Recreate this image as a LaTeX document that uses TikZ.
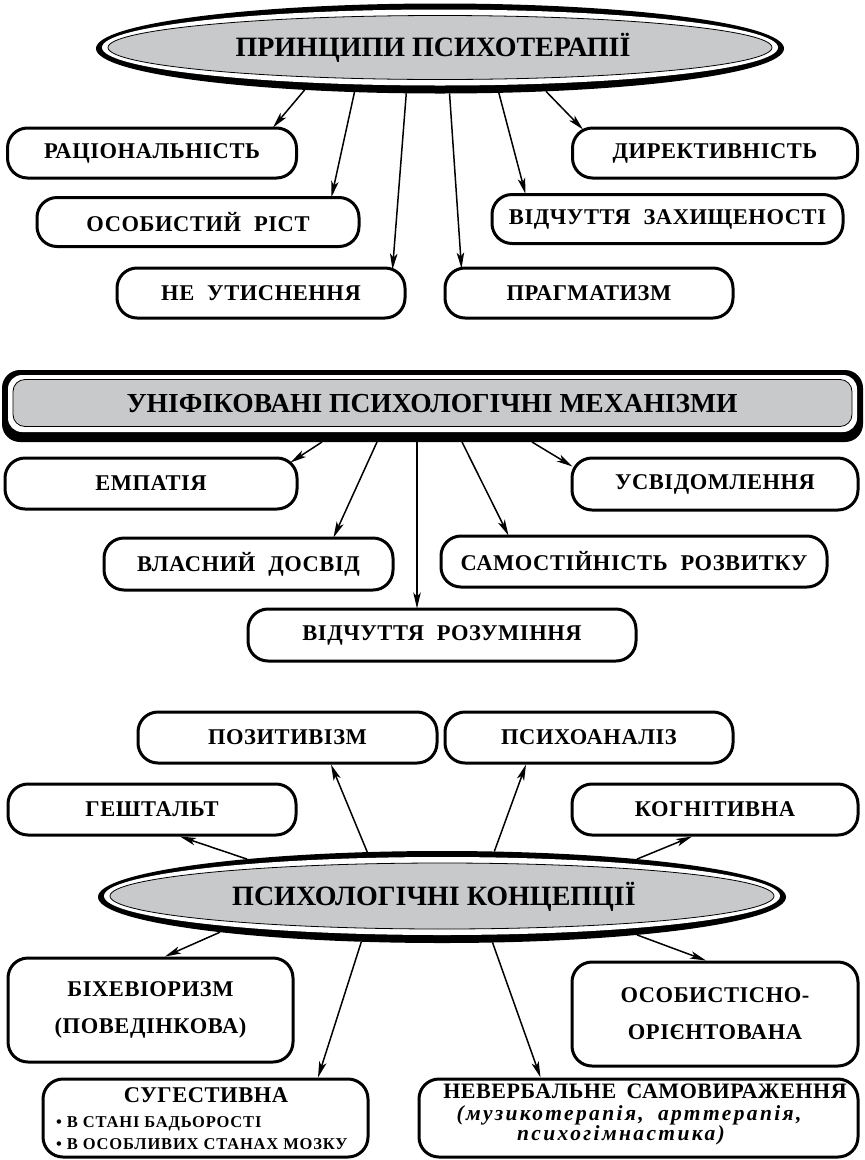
\documentclass[tikz,border=0pt]{standalone}
\usepackage{fontspec}
\setmainfont{Liberation Serif}
\newfontfamily\boxfont[LetterSpace=2.5]{Liberation Serif}
\newfontfamily\itfont[LetterSpace=11]{Liberation Serif}
\newfontfamily\bulfont[LetterSpace=5]{Liberation Serif}
\usetikzlibrary{arrows.meta,shapes.geometric}
\definecolor{tgray}{RGB}{200,201,203}
\begin{document}
\begin{tikzpicture}[x=1pt,y=-1pt,
  box/.style={draw, line width=3pt, rounded corners=20pt, fill=white, inner sep=0pt, align=center,
              font=\boxfont\bfseries\fontsize{22.5}{37}\selectfont},
  btxt/.style={inner sep=0pt, font=\boxfont\bfseries\fontsize{22.5}{24}\selectfont},
  itxt/.style={inner sep=0pt, font=\itfont\bfseries\itshape\fontsize{21.5}{24}\selectfont},
  bul/.style={inner sep=0pt, font=\bulfont\bfseries\fontsize{16.5}{18}\selectfont},
  ttl/.style={inner sep=0pt, font=\bfseries\fontsize{28}{30}\selectfont},
  blackfill/.style={fill=black, inner sep=0pt, outer sep=0pt},
  whitefill/.style={fill=white, inner sep=0pt, outer sep=0pt},
  grayfill/.style={draw, line width=0.8pt, fill=tgray, inner sep=0pt, outer sep=0pt},
  arr/.style={line width=1.5pt, -{Stealth[length=16pt,width=7.5pt,inset=4pt]}}]
\useasboundingbox (0,0) rectangle (865,1160);
\fill[white] (0,0) rectangle (865,1160);

% ---------- section 1 ----------
\node[ellipse, blackfill, minimum width=688pt, minimum height=90pt] (pt) at (440,48.5) {};
\node[ellipse, whitefill, minimum width=676pt, minimum height=76pt] at (440,47.5) {};
\node[ellipse, grayfill, minimum width=664pt, minimum height=64pt] (pti) at (440,47.5) {};
\node[ttl] (ptt) at (433,48) {ПРИНЦИПИ ПСИХОТЕРАПІЇ};

\node[box, minimum width=289pt, minimum height=50pt] (rac) at (152,153) {РАЦІОНАЛЬНІСТЬ};
\node[box, minimum width=285pt, minimum height=50pt] (dyr) at (715,153) {ДИРЕКТИВНІСТЬ};
\node[box, minimum width=322pt, minimum height=49pt] (osr) at (198,222) {ОСОБИСТИЙ\hspace{0.3em} РІСТ};
\node[box, minimum width=351pt, minimum height=49pt] (vzx) at (667.5,219) {ВІДЧУТТЯ\hspace{0.3em} ЗАХИЩЕНОСТІ};
\node[box, minimum width=288pt, minimum height=50pt] (neu) at (261,293) {НЕ\hspace{0.3em} УТИСНЕННЯ};
\node[box, minimum width=288pt, minimum height=50pt] (prg) at (589,293) {ПРАГМАТИЗМ};

\draw[arr] (pt.197.7) -- ([xshift=-25pt,yshift=-1pt]rac.north east);
\draw[arr] (pt.207.5) -- ([xshift=-29pt,yshift=-1pt]osr.north east);
\draw[arr] (pt.233.9) -- ([xshift=-14pt,yshift=-3pt]neu.north east);
\draw[arr] (pt.282.8) -- ([xshift=18pt,yshift=-2pt]prg.north west);
\draw[arr] (pt.323.7) -- ([xshift=35pt,yshift=-1pt]vzx.north west);
\draw[arr] (pt.338.2) -- ([xshift=12pt,yshift=-3pt]dyr.north west);

% ---------- section 2 ----------
\node[blackfill, rounded corners=18pt, minimum width=861pt, minimum height=72pt] (mech) at (432.5,406) {};
\node[whitefill, rounded corners=14pt, minimum width=849pt, minimum height=57pt] at (432.5,403.5) {};
\node[grayfill, rounded corners=12pt, minimum width=839pt, minimum height=47pt] (mechi) at (432.5,403) {};
\node[ttl, font=\bfseries\fontsize{27.5}{30}\selectfont] (mecht) at (432,404) {УНІФІКОВАНІ ПСИХОЛОГІЧНІ МЕХАНІЗМИ};

\node[box, minimum width=292pt, minimum height=51pt] (emp) at (151,483.5) {ЕМПАТІЯ};
\node[box, minimum width=286pt, minimum height=52pt] (usv) at (715,484) {УСВІДОМЛЕННЯ};
\node[box, minimum width=289pt, minimum height=52pt] (vla) at (248.5,564) {ВЛАСНИЙ\hspace{0.3em} ДОСВІД};
\node[box, minimum width=386pt, minimum height=51pt] (sam) at (634,561.5) {САМОСТІЙНІСТЬ\hspace{0.3em} РОЗВИТКУ};
\node[box, minimum width=388pt, minimum height=52pt] (vro) at (442,635) {ВІДЧУТТЯ\hspace{0.3em} РОЗУМІННЯ};

\draw[arr] ([xshift=-110.5pt]mech.south) -- ([xshift=-8pt,yshift=-6pt]emp.north east);
\draw[arr] ([xshift=-55.5pt]mech.south) -- ([xshift=-61pt,yshift=-1pt]vla.north east);
\draw[arr] ([xshift=-15.5pt]mech.south) -- ([xshift=-25pt,yshift=-1pt]vro.north);
\draw[arr] ([xshift=29.5pt]mech.south) -- ([xshift=69pt,yshift=-1pt]sam.north west);
\draw[arr] ([xshift=99.5pt]mech.south) -- ([xshift=2pt,yshift=-10pt]usv.north west);

% ---------- section 3 ----------
\node[ellipse, blackfill, minimum width=688pt, minimum height=92pt] (conc) at (442,897) {};
\node[ellipse, whitefill, minimum width=676pt, minimum height=78pt] at (442,896) {};
\node[ellipse, grayfill, minimum width=664pt, minimum height=66pt] (conci) at (442,896) {};
\node[ttl] (conct) at (434,897) {ПСИХОЛОГІЧНІ КОНЦЕПЦІЇ};

\node[box, minimum width=299pt, minimum height=51pt] (poz) at (287.5,737.5) {ПОЗИТИВІЗМ};
\node[box, minimum width=288pt, minimum height=51pt] (psy) at (589,737.5) {ПСИХОАНАЛІЗ};
\node[box, minimum width=288pt, minimum height=51pt] (ges) at (152,809.5) {ГЕШТАЛЬТ};
\node[box, minimum width=286pt, minimum height=51pt] (kog) at (715,809.5) {КОГНІТИВНА};
\node[box, minimum width=285pt, minimum height=104pt] (bix) at (150.5,1010) {БІХЕВІОРИЗМ\\(ПОВЕДІНКОВА)};
\node[box, minimum width=286pt, minimum height=104pt] (oso) at (715,1014) {ОСОБИСТІСНО-\\ОРІЄНТОВАНА};
\node[box, minimum width=325pt, minimum height=78pt] (sug) at (205.5,1118) {};
\node[box, minimum width=439pt, minimum height=78pt] (nev) at (638.5,1118) {};

\node[btxt, anchor=base] (sugt) at (206,1102) {СУГЕСТИВНА};
\node[bul, anchor=base west] (sug1) at (56,1127) {• В СТАНІ БАДЬОРОСТІ};
\node[bul, anchor=base west] (sug2) at (56,1149) {• В ОСОБЛИВИХ СТАНАХ МОЗКУ};
\node[btxt, anchor=base, font=\boxfont\bfseries\fontsize{22}{24}\selectfont] (nevt) at (645,1098) {НЕВЕРБАЛЬНЕ\hspace{0.2em} САМОВИРАЖЕННЯ};
\node[itxt, anchor=base] (nev1) at (629,1120) {(музикотерапія,\hspace{0.3em} арттерапія,};
\node[itxt, anchor=base] (nev2) at (621,1140) {психогімнастика)};

\draw[arr] (conc.169.6) -- ([xshift=28pt]ges.south);
\draw[arr] (conc.149.7) -- ([xshift=43.5pt]poz.south);
\draw[arr] (conc.41.7) -- ([xshift=-63pt]psy.south);
\draw[arr] (conc.11.3) -- ([xshift=-23pt]kog.south);
\draw[arr] (conc.189.6) -- ([xshift=14.5pt]bix.north);
\draw[arr] (conc.209.6) -- ([xshift=112.5pt]sug.north);
\draw[arr] (conc.318.9) -- ([xshift=-98pt]nev.north);
\draw[arr] (conc.349) -- ([xshift=-9pt]oso.north);
\end{tikzpicture}
\end{document}
